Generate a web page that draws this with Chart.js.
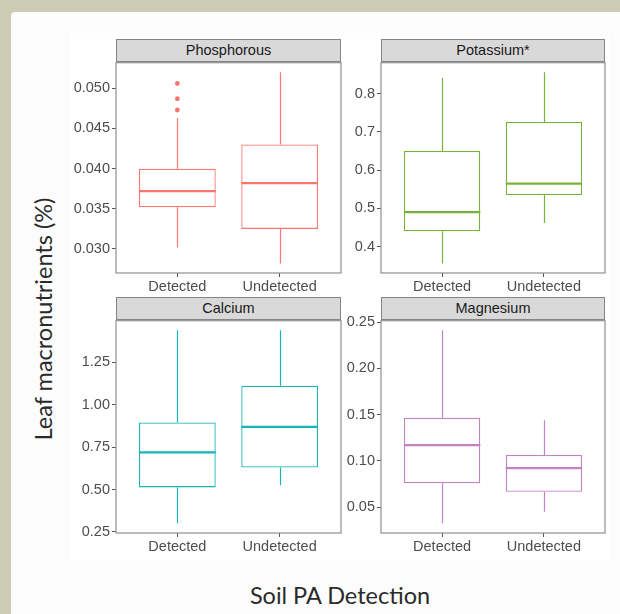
<!DOCTYPE html>
<html>
<head>
<meta charset="utf-8">
<script src="https://cdn.jsdelivr.net/npm/chart.js@4.4.1/dist/chart.umd.min.js"></script>
<style>
  html, body { margin: 0; padding: 0; }
  body {
    width: 620px;
    height: 614px;
    background: #cccbb3;
    position: relative;
    overflow: hidden;
    font-family: "Liberation Sans", Arial, sans-serif;
  }
  .sheet {
    position: absolute;
    left: 11px;
    top: 12px;
    width: 640px;
    height: 640px;
    background: #fcfcfc;
    border-radius: 4px;
  }
  .figure {
    position: absolute;
    left: 70px;
    top: 33px;
    width: 539px;
    height: 527px;
    background: #ffffff;
  }
  .strip {
    position: absolute;
    box-sizing: border-box;
    height: 23px;
    background: #d9d9d9;
    border: 1.5px solid #858585;
    color: #1a1a1a;
    font-size: 14.5px;
    line-height: 20px;
    text-align: center;
  }
  canvas { position: absolute; }
  .ytitle {
    position: absolute;
    left: 43px;
    top: 319px;
    transform: translate(-50%, -50%) rotate(-90deg);
    white-space: nowrap;
    font-family: Lato, "Noto Sans", sans-serif;
    font-size: 23.5px;
    color: #2a2a2a;
  }
  .xtitle {
    position: absolute;
    left: 340px;
    top: 595px;
    transform: translate(-50%, -50%);
    white-space: nowrap;
    font-family: Lato, "Noto Sans", sans-serif;
    font-size: 23.5px;
    color: #2a2a2a;
  }
</style>
</head>
<body>
<div class="sheet"></div>
<div class="figure"></div>
<div class="ytitle">Leaf macronutrients (%)</div>
<div class="xtitle">Soil PA Detection</div>

<script>
// groups on the x axis
const groups = ["Detected", "Undetected"];

// box stats per group: [lower whisker, Q1, median, Q3, upper whisker]
const phosphorousStats = [
  [0.0302, 0.0352, 0.0372, 0.0400, 0.0463],
  [0.0282, 0.0325, 0.0382, 0.0430, 0.0520]
];
const phosphorousOutliers = [
  [0.0473, 0.0487, 0.0506],
  []
];
const phosphorousTicks = [0.030, 0.035, 0.040, 0.045, 0.050];

const potassiumStats = [
  [0.356, 0.440, 0.490, 0.650, 0.841],
  [0.462, 0.535, 0.565, 0.726, 0.856]
];
const potassiumTicks = [0.4, 0.5, 0.6, 0.7, 0.8];

const calciumStats = [
  [0.301, 0.513, 0.720, 0.896, 1.439],
  [0.525, 0.630, 0.870, 1.112, 1.439]
];
const calciumTicks = [0.25, 0.50, 0.75, 1.00, 1.25];

const magnesiumStats = [
  [0.0326, 0.0760, 0.1170, 0.1466, 0.2411],
  [0.0450, 0.0668, 0.0922, 0.1064, 0.1440]
];
const magnesiumTicks = [0.05, 0.10, 0.15, 0.20, 0.25];

const panels = [
  { title: "Phosphorous", stats: phosphorousStats, outliers: phosphorousOutliers, ticks: phosphorousTicks, digits: 3, color: "#f8766d", left: 116, top: 62, width: 225, height: 211 },
  { title: "Potassium*", stats: potassiumStats, outliers: [[], []], ticks: potassiumTicks, digits: 1, color: "#78b23a", left: 381, top: 62, width: 224, height: 211 },
  { title: "Calcium", stats: calciumStats, outliers: [[], []], ticks: calciumTicks, digits: 2, color: "#17b5b9", left: 116, top: 320, width: 225, height: 213 },
  { title: "Magnesium", stats: magnesiumStats, outliers: [[], []], ticks: magnesiumTicks, digits: 2, color: "#c282c4", left: 381, top: 320, width: 224, height: 213 }
];

const AXIS_W = 60;
const AXIS_H = 26;
const PAD_TOP = 10;
const PAD_RIGHT = 4;
const TICK_FONT = { family: "'Liberation Sans', Arial, sans-serif", size: 14.5 };

// whiskers, medians and the panel frame, all placed through the chart scales
const boxWhisker = {
  id: "boxWhisker",
  beforeDatasetsDraw(chart, args, opts) {
    const { ctx, scales: { x, y } } = chart;
    ctx.save();
    ctx.strokeStyle = opts.color;
    ctx.lineWidth = 1.2;
    opts.stats.forEach((s, i) => {
      const px = Math.round(x.getPixelForValue(i + 1)) + 0.5;
      ctx.beginPath();
      ctx.moveTo(px, y.getPixelForValue(s[0]));
      ctx.lineTo(px, y.getPixelForValue(s[1]));
      ctx.moveTo(px, y.getPixelForValue(s[3]));
      ctx.lineTo(px, y.getPixelForValue(s[4]));
      ctx.stroke();
    });
    ctx.restore();
  },
  afterDatasetsDraw(chart, args, opts) {
    const { ctx, scales: { y } } = chart;
    const bars = chart.getDatasetMeta(0).data;
    ctx.save();
    ctx.strokeStyle = opts.color;
    ctx.lineWidth = 2.2;
    opts.stats.forEach((s, i) => {
      const bar = bars[i];
      const py = y.getPixelForValue(s[2]);
      ctx.beginPath();
      ctx.moveTo(bar.x - bar.width / 2, py);
      ctx.lineTo(bar.x + bar.width / 2, py);
      ctx.stroke();
    });
    ctx.restore();
  },
  afterDraw(chart) {
    const { ctx, chartArea: a } = chart;
    ctx.save();
    ctx.strokeStyle = "#8f8f8f";
    ctx.lineWidth = 1.2;
    ctx.strokeRect(a.left, a.top, a.right - a.left, a.bottom - a.top);
    ctx.restore();
  }
};

panels.forEach((p) => {
  const strip = document.createElement("div");
  strip.className = "strip";
  strip.textContent = p.title;
  strip.style.left = p.left + "px";
  strip.style.top = (p.top - 23) + "px";
  strip.style.width = p.width + "px";
  document.body.appendChild(strip);

  const canvas = document.createElement("canvas");
  const cw = AXIS_W + p.width + PAD_RIGHT;
  const ch = PAD_TOP + p.height + AXIS_H;
  canvas.width = cw;
  canvas.height = ch;
  canvas.style.width = cw + "px";
  canvas.style.height = ch + "px";
  canvas.style.left = (p.left - AXIS_W) + "px";
  canvas.style.top = (p.top - PAD_TOP) + "px";
  document.body.appendChild(canvas);

  // ggplot style range: data extent plus 5% on each side
  const all = p.stats.flat().concat(p.outliers.flat());
  const lo = Math.min(...all);
  const hi = Math.max(...all);
  const pad = (hi - lo) * 0.05;

  const datasets = [
    {
      type: "bar",
      data: p.stats.map((s, i) => ({ x: i + 1, y: [s[1], s[3]] })),
      backgroundColor: "#ffffff",
      borderColor: p.color,
      borderWidth: 1.3,
      borderSkipped: false,
      categoryPercentage: 0.75,
      barPercentage: 1
    },
    {
      type: "scatter",
      data: p.outliers.flatMap((vals, i) => vals.map((v) => ({ x: i + 1, y: v }))),
      backgroundColor: p.color,
      borderColor: p.color,
      pointRadius: 2.4,
      pointBorderWidth: 0
    }
  ];

  new Chart(canvas, {
    data: { datasets },
    plugins: [boxWhisker],
    options: {
      responsive: false,
      devicePixelRatio: 1,
      animation: false,
      layout: { padding: { top: PAD_TOP, right: PAD_RIGHT, left: 0, bottom: 0 } },
      plugins: {
        legend: { display: false },
        tooltip: { enabled: false },
        boxWhisker: { stats: p.stats, color: p.color }
      },
      scales: {
        x: {
          type: "linear",
          min: 0.4,
          max: 2.6,
          offset: false,
          afterBuildTicks: (scale) => { scale.ticks = groups.map((g, i) => ({ value: i + 1 })); },
          afterFit: (scale) => { scale.height = AXIS_H; },
          grid: { offset: false, drawOnChartArea: false, drawTicks: true, tickLength: 4, color: "#555" },
          border: { display: false },
          ticks: {
            autoSkip: false,
            maxRotation: 0,
            padding: 1,
            color: "#4d4d4d",
            font: TICK_FONT,
            callback: (v) => groups[Math.round(v) - 1]
          }
        },
        y: {
          type: "linear",
          min: lo - pad,
          max: hi + pad,
          beginAtZero: false,
          afterBuildTicks: (scale) => { scale.ticks = p.ticks.map((v) => ({ value: v })); },
          afterFit: (scale) => { scale.width = AXIS_W; },
          grid: { drawOnChartArea: false, drawTicks: true, tickLength: 4, color: "#555" },
          border: { display: false },
          ticks: {
            padding: 2,
            color: "#4d4d4d",
            font: TICK_FONT,
            callback: (v) => Number(v).toFixed(p.digits)
          }
        }
      }
    }
  });
});
</script>
</body>
</html>
